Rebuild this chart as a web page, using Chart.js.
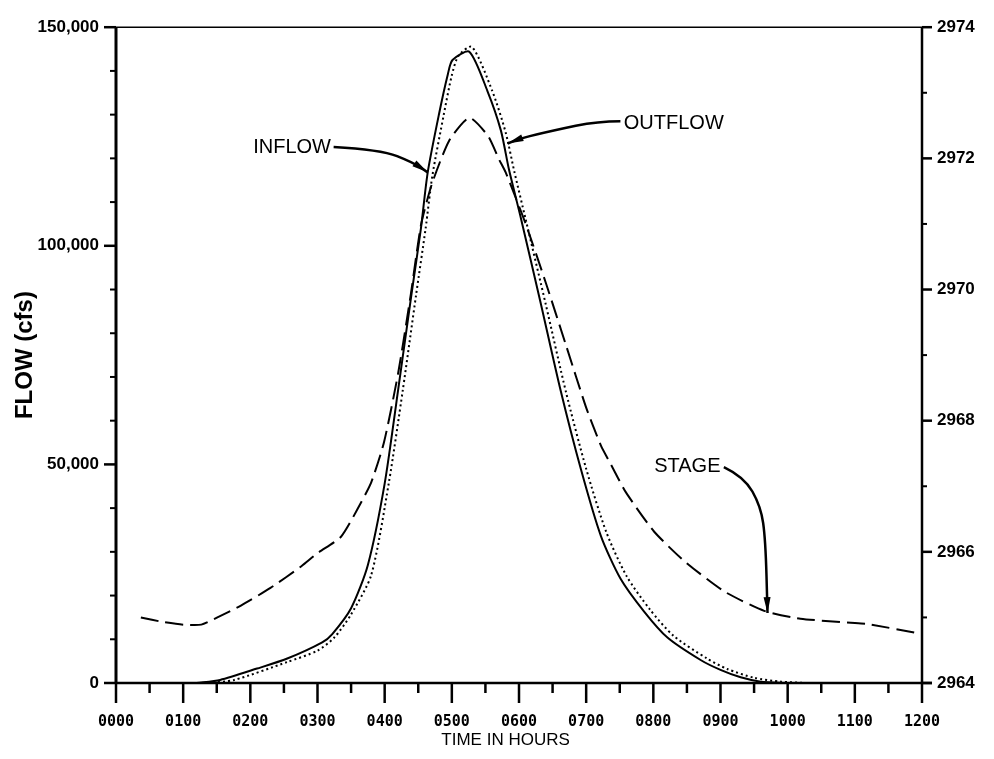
<!DOCTYPE html>
<html>
<head>
<meta charset="utf-8">
<script src="https://cdn.jsdelivr.net/npm/chart.js@4.4.1/dist/chart.umd.min.js"></script>
<style>
  html, body { margin: 0; padding: 0; background: #fff; }
  canvas { display: block; }
</style>
</head>
<body>
<canvas id="c" width="994" height="759"></canvas>
<script>
// hydrograph values (time in hours)
const inflowHours = [1.2, 1.55, 2.1, 2.55, 3.07, 3.22, 3.5, 3.75, 4.0, 4.2, 4.4, 4.54, 4.64, 4.81, 4.94, 5.01, 5.26, 5.53, 5.73, 5.85, 6.03, 6.32, 6.62, 6.92, 7.22, 7.51, 7.86, 8.21, 8.71, 9.0, 9.3, 9.6, 10.0];
const inflowCfs = [0, 700, 3300, 5600, 9300, 11200, 17100, 27000, 45600, 67000, 89000, 104000, 116700, 130200, 139200, 142500, 144400, 135400, 126400, 117500, 106200, 87100, 66900, 49000, 33600, 23900, 16400, 10400, 5200, 3000, 1300, 300, 0];

const outflowHours = [1.37, 1.76, 2.55, 3.0, 3.25, 3.5, 3.8, 4.06, 4.27, 4.47, 4.61, 4.71, 4.88, 5.0, 5.1, 5.3, 5.6, 5.8, 5.93, 6.1, 6.4, 6.7, 7.0, 7.3, 7.6, 7.95, 8.3, 8.8, 9.1, 9.5, 9.9, 10.3];
const outflowCfs = [0, 700, 4800, 7400, 10400, 15700, 24700, 45600, 67000, 89000, 104000, 116000, 130000, 139000, 143500, 145500, 135500, 126000, 117000, 106000, 86500, 66500, 49000, 34500, 24500, 16800, 10800, 5600, 3200, 1200, 300, 0];

const stageHours = [0.37, 0.7, 1.0, 1.27, 1.51, 1.86, 2.3, 2.76, 3.0, 3.35, 3.6, 3.8, 3.99, 4.2, 4.39, 4.54, 4.7, 4.96, 5.26, 5.54, 5.7, 5.8, 6.1, 6.4, 6.7, 7.0, 7.22, 7.37, 7.59, 8.01, 8.46, 9.05, 9.65, 10.19, 10.94, 11.19, 11.98];
const stageFeet = [2965.0, 2964.93, 2964.89, 2964.89, 2965.0, 2965.18, 2965.45, 2965.78, 2965.98, 2966.23, 2966.66, 2967.06, 2967.67, 2968.72, 2969.93, 2970.98, 2971.6, 2972.27, 2972.62, 2972.34, 2971.99, 2971.79, 2971.0, 2970.1, 2969.15, 2968.2, 2967.62, 2967.33, 2966.91, 2966.31, 2965.86, 2965.4, 2965.1, 2964.98, 2964.92, 2964.9, 2964.75];

const hourLabels = ['0000', '0100', '0200', '0300', '0400', '0500', '0600', '0700', '0800', '0900', '1000', '1100', '1200'];
const flowTickValues = [0, 50000, 100000, 150000];
const flowTickLabels = ['0', '50,000', '100,000', '150,000'];
const stageTickValues = [2964, 2966, 2968, 2970, 2972, 2974];
const stageTickLabels = ['2964', '2966', '2968', '2970', '2972', '2974'];

function toPoints(xs, ys) {
  return xs.map((x, i) => ({ x, y: ys[i] }));
}

function seg(ctx, x1, y1, x2, y2, w) {
  ctx.lineWidth = w;
  ctx.beginPath();
  ctx.moveTo(x1, y1);
  ctx.lineTo(x2, y2);
  ctx.stroke();
}

// callouts, given in chart units (hours, cfs)
const notes = [
  { text: 'INFLOW', align: 'right', at: [3.2, 122600], path: [[3.24, 122600], [3.94, 122000], [4.43, 119000], [4.64, 116800]] },
  { text: 'OUTFLOW', align: 'left', at: [7.56, 128000], path: [[7.51, 128500], [7.17, 128500], [6.52, 126400], [6.03, 124600], [5.83, 123400]] },
  { text: 'STAGE', align: 'right', at: [9.0, 49600], path: [[9.05, 49400], [9.35, 47200], [9.6, 40400], [9.67, 32800], [9.7, 16000]] }
];

const framePlugin = {
  id: 'frame',
  afterDraw(chart) {
    const { ctx, chartArea: a, scales } = chart;
    const { x, y, y1 } = scales;
    ctx.save();
    ctx.strokeStyle = '#000';
    ctx.fillStyle = '#000';
    ctx.lineCap = 'butt';

    seg(ctx, a.left - 10, a.top, a.right + 10, a.top, 1.5);
    seg(ctx, a.left, a.top, a.left, a.bottom, 3);
    seg(ctx, a.right, a.top, a.right, a.bottom, 2.5);
    seg(ctx, a.left, a.bottom, a.right + 10, a.bottom, 2.5);

    x.ticks.forEach(t => {
      const px = x.getPixelForValue(t.value);
      const major = Number.isInteger(t.value);
      seg(ctx, px, a.bottom, px, a.bottom + (major ? 20 : 10), 2.5);
    });
    y.ticks.forEach(t => {
      const py = y.getPixelForValue(t.value);
      const major = flowTickValues.includes(t.value);
      seg(ctx, a.left - (major ? 12 : 6), py, a.left, py, major ? 2.5 : 2);
    });
    y1.ticks.forEach(t => {
      const py = y1.getPixelForValue(t.value);
      const major = stageTickValues.includes(t.value);
      seg(ctx, a.right, py, a.right + (major ? 10 : 5), py, major ? 2.5 : 2);
    });

    // axis titles
    ctx.font = 'bold 24px "Liberation Sans", Arial, sans-serif';
    ctx.textAlign = 'center';
    ctx.textBaseline = 'middle';
    ctx.save();
    ctx.translate(25, (a.top + a.bottom) / 2);
    ctx.rotate(-Math.PI / 2);
    ctx.fillText('FLOW (cfs)', 0, 0);
    ctx.restore();

    ctx.font = '17px "Liberation Sans", Arial, sans-serif';
    ctx.fillText('TIME IN HOURS', x.getPixelForValue(5.8), 740);

    // callouts with arrows
    ctx.font = '20px "Liberation Sans", Arial, sans-serif';
    notes.forEach(n => {
      ctx.textAlign = n.align;
      ctx.fillText(n.text, x.getPixelForValue(n.at[0]), y.getPixelForValue(n.at[1]));
      const pts = n.path.map(p => [x.getPixelForValue(p[0]), y.getPixelForValue(p[1])]);
      ctx.lineWidth = 2.5;
      ctx.beginPath();
      ctx.moveTo(pts[0][0], pts[0][1]);
      for (let i = 1; i < pts.length - 1; i++) {
        const mx = (pts[i][0] + pts[i + 1][0]) / 2;
        const my = (pts[i][1] + pts[i + 1][1]) / 2;
        ctx.quadraticCurveTo(pts[i][0], pts[i][1], mx, my);
      }
      const tip = pts[pts.length - 1];
      const prev = pts[pts.length - 2];
      ctx.lineTo(tip[0], tip[1]);
      ctx.stroke();
      const ang = Math.atan2(tip[1] - prev[1], tip[0] - prev[0]);
      ctx.save();
      ctx.translate(tip[0], tip[1]);
      ctx.rotate(ang);
      ctx.beginPath();
      ctx.moveTo(0, 0);
      ctx.lineTo(-16, -3.5);
      ctx.lineTo(-16, 3.5);
      ctx.closePath();
      ctx.fill();
      ctx.restore();
    });
    ctx.restore();
  }
};

const tickFont = { family: '"Liberation Sans", Arial, sans-serif', size: 17, weight: 'bold' };

new Chart(document.getElementById('c'), {
  type: 'line',
  data: {
    datasets: [
      {
        label: 'INFLOW',
        data: toPoints(inflowHours, inflowCfs),
        yAxisID: 'y',
        borderColor: '#000',
        borderWidth: 2,
        tension: 0.25,
        pointRadius: 0
      },
      {
        label: 'OUTFLOW',
        data: toPoints(outflowHours, outflowCfs),
        yAxisID: 'y',
        borderColor: '#000',
        borderWidth: 2,
        borderDash: [2, 3],
        tension: 0.25,
        pointRadius: 0
      },
      {
        label: 'STAGE',
        data: toPoints(stageHours, stageFeet),
        yAxisID: 'y1',
        borderColor: '#000',
        borderWidth: 2,
        borderDash: [18, 7],
        tension: 0.2,
        pointRadius: 0
      }
    ]
  },
  options: {
    responsive: false,
    devicePixelRatio: 1,
    animation: false,
    layout: { padding: { top: 16, left: 0, right: 0, bottom: 0 } },
    plugins: {
      legend: { display: false },
      tooltip: { enabled: false }
    },
    scales: {
      x: {
        type: 'linear',
        min: 0,
        max: 12,
        grid: { display: false, drawTicks: false },
        border: { display: false },
        ticks: {
          stepSize: 0.5,
          autoSkip: false,
          maxRotation: 0,
          padding: 30,
          color: '#000',
          font: { family: '"DejaVu Sans Mono", monospace', size: 15, weight: 'bold' },
          callback: v => (Number.isInteger(v) ? hourLabels[v] : '')
        },
        afterFit: s => { s.height = 759 - 683; }
      },
      y: {
        position: 'left',
        min: 0,
        max: 150000,
        grid: { display: false, drawTicks: false },
        border: { display: false },
        ticks: {
          stepSize: 10000,
          autoSkip: false,
          padding: 17,
          color: '#000',
          font: tickFont,
          callback: v => {
            const i = flowTickValues.indexOf(v);
            return i >= 0 ? flowTickLabels[i] : '';
          }
        },
        afterFit: s => { s.width = 116; }
      },
      y1: {
        position: 'right',
        min: 2964,
        max: 2974,
        grid: { display: false, drawTicks: false },
        border: { display: false },
        ticks: {
          stepSize: 1,
          autoSkip: false,
          padding: 15,
          color: '#000',
          font: tickFont,
          callback: v => {
            const i = stageTickValues.indexOf(v);
            return i >= 0 ? stageTickLabels[i] : '';
          }
        },
        afterFit: s => { s.width = 994 - 922; }
      }
    }
  },
  plugins: [framePlugin]
});
</script>
</body>
</html>
